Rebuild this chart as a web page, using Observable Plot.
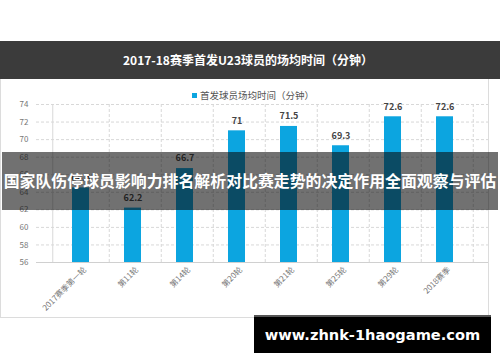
<!DOCTYPE html>
<html><head><meta charset="utf-8">
<script src="https://cdn.jsdelivr.net/npm/d3@7"></script>
<script src="https://cdn.jsdelivr.net/npm/@observablehq/plot@0.6"></script>
<style>
html,body{margin:0;padding:0;background:#fff;}
#wrap{position:relative;width:500px;height:362px;overflow:hidden;background:#fff;font-family:"Noto Sans CJK SC","Noto Sans",sans-serif;}
#header{position:absolute;left:0;top:41px;width:500px;height:38px;background:#3b3b3b;}
#title{position:absolute;left:0;width:496px;top:0;height:38px;line-height:38px;text-align:center;color:#fff;font-weight:bold;font-size:12px;}
#panel{position:absolute;left:0;top:79px;width:487px;height:238px;border:1px solid #dcdcdc;border-top:none;background:#fff;}
#chart{position:absolute;left:0;top:79px;}
#legend{position:absolute;top:88px;left:0;width:506px;text-align:center;font-size:9.5px;color:#555;}
#legend span.sw{display:inline-block;width:5px;height:5px;background:#0ca5e0;margin-right:3px;vertical-align:1px;}
#banner{position:absolute;left:2px;top:152px;width:496px;height:58px;background:rgba(10,10,10,0.58);}
#btext{position:absolute;left:0;top:152px;width:500px;height:58px;color:#fff;font-weight:bold;font-size:15.9px;line-height:58px;text-align:center;white-space:nowrap;}
#wm{position:absolute;left:254px;top:315px;width:237px;height:38px;background:#000;border-top:2px solid #555;box-sizing:border-box;color:#fff;font-family:"DejaVu Sans",sans-serif;font-weight:bold;font-size:14.6px;line-height:36px;text-align:center;}
#logo{position:absolute;left:26px;top:44px;}
</style></head>
<body>
<div id="wrap">
  <div id="header">
    <svg id="logo" width="40" height="30" viewBox="0 0 40 30">
      <polygon points="4,22 16,6 16,22" fill="#5cc33a"/>
      <polygon points="16,6 30,12 26,22 16,22" fill="#2f7fd6"/>
      <polygon points="26,22 30,12 36,22" fill="#e8384f"/>
      <polygon points="16,6 22,14 16,22" fill="#3fb4c8"/>
      <polygon points="22,16 30,12 26,22" fill="#b04ac8"/>
      <text x="20" y="28" text-anchor="middle" font-size="4.5" font-weight="bold" fill="#bbb" font-family="DejaVu Sans">CHAMPION</text>
    </svg>
    <div id="title">2017-18赛季首发U23球员的场均时间（分钟）</div>
  </div>
  <div id="panel"></div>
  <div id="chart"></div>
  <div id="legend"><span class="sw"></span>首发球员场均时间（分钟）</div>
  <div id="banner"></div>
  <div id="btext">国家队伤停球员影响力排名解析对比赛走势的决定作用全面观察与评估</div>
  <div id="wm">www.zhnk-1haogame.com</div>
</div>
<script>
const rounds = ["2017赛季第一轮","第11轮","第14轮","第20轮","第21轮","第25轮","第29轮","2018赛季"];
const minutes = [64.5, 62.2, 66.7, 71, 71.5, 69.3, 72.6, 72.6];
const yTicks = [56,58,60,62,64,66,68,70,72,74];

const data = rounds.map((r,i)=>({round:r, value:minutes[i]}));
const W = 488, H = 239, mL = 36, mR = 0;
const step = (W - mL - mR) / rounds.length;

const chart = Plot.plot({
  width: W, height: H,
  marginLeft: mL, marginRight: mR, marginTop: 25, marginBottom: 56,
  style: {fontFamily: '"Noto Sans CJK SC", sans-serif', background: "transparent", overflow: "visible"},
  x: {domain: rounds, padding: 0.68, label: null},
  y: {domain: [56, 74], ticks: yTicks, label: null},
  marks: [
    Plot.ruleY(yTicks.slice(1), {stroke: "#d8d8d8", strokeDasharray: "3,2"}),
    Plot.ruleX(rounds, {x: d=>d, dx: step/2, stroke: "#d8d8d8", strokeDasharray: "3,2"}),
    Plot.ruleX([rounds[0]], {x: d=>d, dx: -step/2, stroke: "#d8d8d8"}),
    Plot.ruleY([56], {stroke: "#d0d0d0"}),
    Plot.barY(data, {x: "round", y1: 56, y2: "value", fill: "#0ca5e0"}),
    Plot.text(data, {x: "round", y: "value", text: d=>String(d.value), dy: -10, fontSize: 9, fontWeight: "bold", fill: "#444"}),
    Plot.axisY({ticks: yTicks, tickSize: 0, tickPadding: 8, fontSize: 8, fill: "#777", tickFormat: d=>d}),
    Plot.axisX({tickSize: 0, tickPadding: 6, tickRotate: -45, fontSize: 8, fill: "#777", dx: 4})
  ]
});
document.getElementById("chart").appendChild(chart);
</script>
</body></html>
